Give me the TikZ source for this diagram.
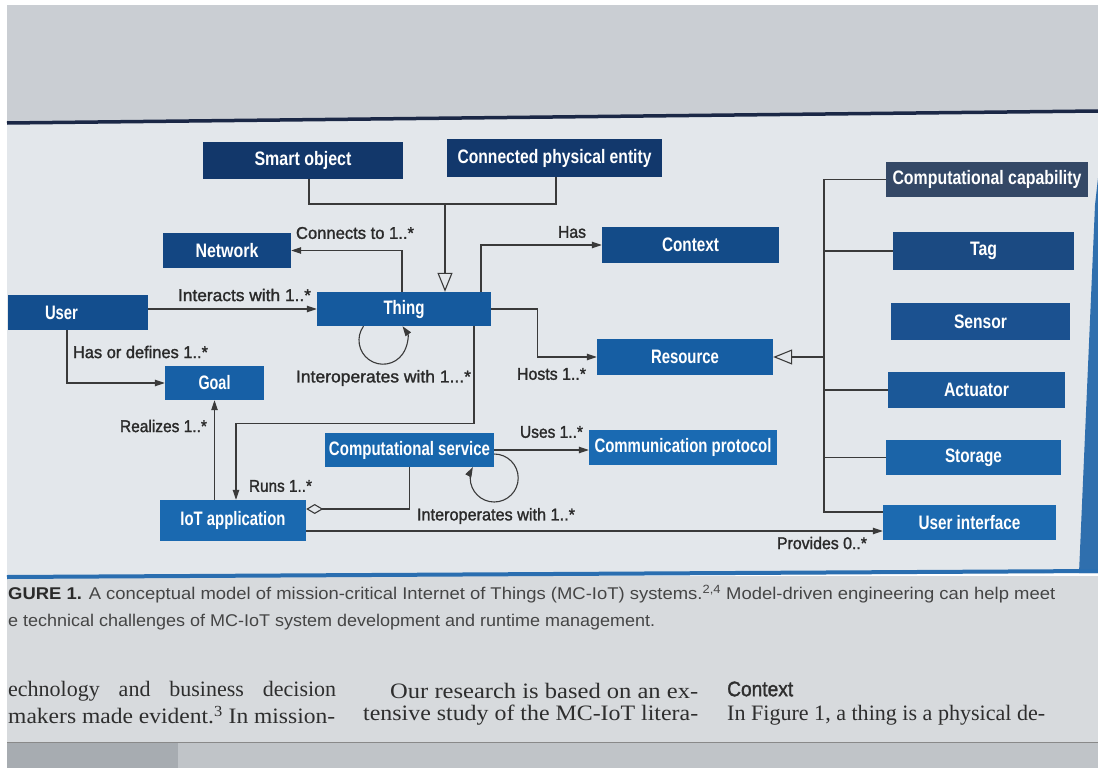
\documentclass[tikz,border=0pt]{standalone}
\usepackage{fontspec}
\usepackage{graphicx}
\setmainfont{Liberation Serif}
\setsansfont{Liberation Sans}
\newfontfamily\labfont{Liberation Sans}[FakeBold=1.5]
\usetikzlibrary{arrows.meta}

% page and screen tones
\definecolor{topbg}{HTML}{CACED3}
\definecolor{figbg}{HTML}{E3E7EB}
\definecolor{capbg}{HTML}{D7DADD}
\definecolor{barbg}{HTML}{C0C4C8}
\definecolor{barbgdark}{HTML}{A7ACB1}
\definecolor{rulenavy}{HTML}{1B2846}
\definecolor{ruleblue}{HTML}{2A6EB0}
\definecolor{stripe}{HTML}{2F6FAE}
% box fills
\definecolor{cSmart}{HTML}{12376A}
\definecolor{cCpe}{HTML}{12386C}
\definecolor{cCcap}{HTML}{344866}
\definecolor{cNet}{HTML}{134682}
\definecolor{cCtx}{HTML}{134B88}
\definecolor{cTag}{HTML}{1B4A82}
\definecolor{cUser}{HTML}{134E8E}
\definecolor{cThing}{HTML}{155A9E}
\definecolor{cSensor}{HTML}{1B5190}
\definecolor{cRes}{HTML}{165EA3}
\definecolor{cGoal}{HTML}{1760A6}
\definecolor{cAct}{HTML}{1B5898}
\definecolor{cServ}{HTML}{1867AD}
\definecolor{cProto}{HTML}{1A6AB2}
\definecolor{cStor}{HTML}{1B64A8}
\definecolor{cApp}{HTML}{1A69B0}
\definecolor{cUI}{HTML}{1C6AB0}
% strokes and text
\definecolor{linec}{HTML}{3A3A3A}
\definecolor{labc}{HTML}{2A2A2A}
\definecolor{capc}{HTML}{454545}
\definecolor{bodyc}{HTML}{2E2E2E}

% squeeze a text horizontally to a given width (in pt)
\newcommand\fitto[2]{\resizebox{#1pt}{\height}{#2}}

\begin{document}
\begin{tikzpicture}[x=1pt,y=-1pt,
  box/.style={fill=#1, inner sep=0pt, text=white,
    font=\sffamily\bfseries\fontsize{19.5}{22}\selectfont},
  lab/.style={text=labc, inner sep=0pt,
    font=\labfont\fontsize{17}{19}\selectfont},
  captext/.style={text=capc, inner sep=0pt, anchor=west,
    font=\sffamily\fontsize{17}{19}\selectfont},
  body/.style={text=bodyc, inner sep=0pt, anchor=west,
    font=\rmfamily\fontsize{22}{24}\selectfont},
  conn/.style={draw=linec, line width=1.1pt},
  arr/.style={conn, -{Triangle[length=10pt,width=6.5pt]}},
  gen/.style={conn, -{Triangle[open,length=19pt,width=15pt,fill=figbg]}},
  agg/.style={conn, {Diamond[open,length=17pt,width=10pt,fill=figbg]}-},
]
\useasboundingbox (0,0) rectangle (1098,768);

% screen background
\fill[white] (0,0) rectangle (1098,768);
\fill[topbg] (7,5) rectangle (1098,125);
\fill[figbg] (7,123) -- (1098,111) -- (1098,573) -- (7,578) -- cycle;
\fill[capbg] (7,576) rectangle (1098,742);
\fill[barbg] (7,742) rectangle (1098,768);
\fill[barbgdark] (7,742) rectangle (178,768);
\draw[linec!60, line width=1pt] (7,742) -- (1098,742);
\fill[stripe] (1098,178) -- (1095,205) -- (1079,573) -- (1098,573) -- cycle;
\draw[rulenavy, line width=3.5pt] (7,123) -- (1098,111);
\draw[ruleblue, line width=4pt] (7,577) -- (1098,571);

% classes
\node[box=cSmart, minimum width=200pt, minimum height=37pt] (smart) at (303,160.5) {\fitto{97}{Smart object}};
\node[box=cCpe, minimum width=215pt, minimum height=38pt] (cpe) at (554.5,158) {\fitto{194}{Connected physical entity}};
\node[box=cCcap, minimum width=202pt, minimum height=35pt] (ccap) at (987,179.5) {\fitto{189}{Computational capability}};
\node[box=cNet, minimum width=128pt, minimum height=35pt] (network) at (227,250.5) {\fitto{63}{Network}};
\node[box=cCtx, minimum width=177pt, minimum height=36pt] (context) at (690.5,245) {\fitto{57}{Context}};
\node[box=cTag, minimum width=181pt, minimum height=38pt] (tag) at (983.5,251) {\fitto{27}{Tag}};
\node[box=cUser, minimum width=140pt, minimum height=35pt] (user) at (78,312.5) {\fitto{33}{User}\hspace*{33pt}};
\node[box=cThing, minimum width=174pt, minimum height=34pt] (thing) at (404,309) {\fitto{41}{Thing}};
\node[box=cSensor, minimum width=179pt, minimum height=37pt] (sensor) at (980.5,321.5) {\fitto{53}{Sensor}};
\node[box=cRes, minimum width=176pt, minimum height=36pt] (resource) at (685,357) {\fitto{68}{Resource}};
\node[box=cGoal, minimum width=99pt, minimum height=34pt] (goal) at (214.5,383) {\fitto{32}{Goal}};
\node[box=cAct, minimum width=177pt, minimum height=36pt] (actuator) at (976.5,390) {\fitto{65}{Actuator}};
\node[box=cServ, minimum width=169pt, minimum height=34pt] (compserv) at (409.5,450) {\fitto{161}{Computational service}};
\node[box=cProto, minimum width=188pt, minimum height=35pt] (commproto) at (683,447.5) {\fitto{177}{Communication protocol}};
\node[box=cStor, minimum width=175pt, minimum height=35pt] (storage) at (973.5,457.5) {\fitto{57}{Storage}};
\node[box=cApp, minimum width=146pt, minimum height=41pt] (iotapp) at (233,520.5) {\fitto{105}{IoT application}};
\node[box=cUI, minimum width=173pt, minimum height=35pt] (ui) at (969.5,522.5) {\fitto{102}{User interface}};

% generalisation of Thing
\coordinate (gj) at (445,204);
\draw[conn] ([xshift=6pt]smart.south) |- (gj);
\draw[conn] ([xshift=1.5pt]cpe.south) |- (gj);
\draw[gen] (gj) -- (gj |- thing.north);

% associations
\draw[arr] ([xshift=-2pt]thing.north) |- (network.east);
\draw[arr] ([xshift=77pt]thing.north) |- (context.west);
\draw[arr] (user.east |- thing.west) -- (thing.west);
\draw[arr] (thing.east) -- ++(46,0) |- (resource.west);
\draw[arr] ([xshift=-40.5pt]thing.south) arc[start angle=144.3, end angle=395.7, radius=24pt];
\draw[arr] ([xshift=70pt]thing.south) -- ++(0,97) -| ([xshift=3pt]iotapp.north);
\draw[arr] ([xshift=-11pt]user.south) |- (goal.west);
\draw[arr] (iotapp.north -| goal.south) -- (goal.south);
\draw[agg] ([yshift=11.5pt]iotapp.east) -| (compserv.south);
\draw[arr] (compserv.east) -- (compserv.east -| commproto.west);
\draw[arr] ([yshift=-4pt]compserv.east) arc[start angle=90, end angle=-207.3, radius=24pt];
\draw[arr] ([yshift=-10.5pt]iotapp.east) -- ([yshift=-10.5pt]iotapp.east -| ui.west);

% kinds of Resource
\coordinate (bus) at (824,300);
\draw[conn] (ccap.west) -| ([yshift=10.5pt]ui.west -| bus) -- ([yshift=10.5pt]ui.west);
\draw[conn] (tag.west) -- (tag.west -| bus);
\draw[conn] (actuator.west) -- (actuator.west -| bus);
\draw[conn] (storage.west) -- (storage.west -| bus);
\draw[gen] (resource.east -| bus) -- (resource.east);

% association labels
\node[lab] (lconn) at (355,233) {\fitto{118}{Connects to 1..*}};
\node[lab] (linter) at (244.5,295) {\fitto{133}{Interacts with 1..*}};
\node[lab] (lhas) at (572,232) {\fitto{28}{Has}};
\node[lab] (lhosts) at (551.5,374) {\fitto{69}{Hosts 1..*}};
\node[lab] (lioth) at (383.5,378) {\fitto{175}{Interoperates with 1...*}};
\node[lab] (lgoal) at (140.5,352) {\fitto{135}{Has or defines 1..*}};
\node[lab] (lreal) at (163.5,426) {\fitto{87}{Realizes 1..*}};
\node[lab] (lruns) at (280.5,486) {\fitto{63}{Runs 1..*}};
\node[lab] (luses) at (551.5,432) {\fitto{63}{Uses 1..*}};
\node[lab] (liots) at (496,516) {\fitto{158}{Interoperates with 1..*}};
\node[lab] (lprov) at (822,543) {\fitto{90}{Provides 0..*}};

% caption
\node[captext] (cap1) at (8,594) {\fitto{1047}{\textbf{\color{labc}GURE 1.} A conceptual model of mission-critical Internet of Things (MC-IoT) systems.\textsuperscript{2,4} Model-driven engineering can help meet}};
\node[captext] (cap2) at (8,622) {\fitto{647}{e technical challenges of MC-IoT system development and runtime management.}};

% running text
\node[body] (b11) at (8,691) {\makebox[328pt][s]{echnology and business decision}};
\node[body] (b12) at (8,715) {\fitto{327}{makers made evident.\textsuperscript{3} In mission-}};
\node[body] (b21) at (390,691) {\fitto{308}{Our research is based on an ex-}};
\node[body] (b22) at (363,715) {\fitto{335}{tensive study of the MC-IoT litera-}};
\node[captext, text=bodyc] (b31) at (727,689) {\fitto{66}{\labfont\fontsize{21}{23}\selectfont Context}};
\node[body] (b32) at (727,715) {\fitto{318}{In Figure 1, a thing is a physical de-}};
\end{tikzpicture}
\end{document}
